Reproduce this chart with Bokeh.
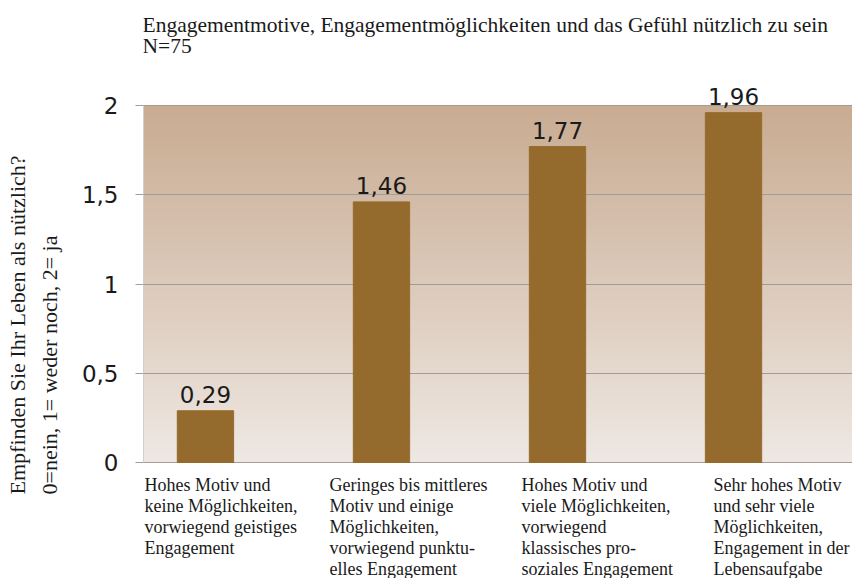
import numpy as np
from bokeh.plotting import figure
from bokeh.models import Range1d, ColumnDataSource, LabelSet, Label, FixedTicker, Title
from bokeh.core.properties import value
from bokeh.embed import file_html
from bokeh.resources import INLINE

# ---- data ----
categories = [
    "Hohes Motiv und\nkeine Möglichkeiten,\nvorwiegend geistiges\nEngagement",
    "Geringes bis mittleres\nMotiv und einige\nMöglichkeiten,\nvorwiegend punktu-\nelles Engagement",
    "Hohes Motiv und\nviele Möglichkeiten,\nvorwiegend\nklassisches pro-\nsoziales Engagement",
    "Sehr hohes Motiv\nund sehr viele\nMöglichkeiten,\nEngagement in der\nLebensaufgabe",
]
values = [0.29, 1.46, 1.77, 1.96]
y_ticks = [0, 0.5, 1, 1.5, 2]
y_tick_labels = ["0", "0,5", "1", "1,5", "2"]
title_lines = ["Engagementmotive, Engagementmöglichkeiten und das Gefühl nützlich zu sein", "N=75"]
y_label_lines = ["Empfinden Sie Ihr Leben als nützlich?", "0=nein,  1= weder noch,  2= ja"]

SERIF = "Liberation Serif"
SANS = "DejaVu Sans"
BAR = "#956b2d"
INK = "#1a1a1a"

# layout constants (pixels)
W, H = 852, 578
LEFT = 143            # frame left edge
Y_TOP_PX, Y_ZERO_PX = 105, 462   # pixel rows of value 2 and value 0
px_per_unit = (Y_ZERO_PX - Y_TOP_PX) / 2.0

xs = np.arange(len(values)) + 0.5
src = ColumnDataSource(dict(x=xs, top=values,
                            lab=[f"{v:.2f}".replace(".", ",") for v in values]))

x0, x1 = 0.148, 4.176
y0 = -(H - Y_ZERO_PX) / px_per_unit
y1 = 2 + Y_TOP_PX / px_per_unit
p = figure(width=W, height=H, output_backend="svg", toolbar_location=None,
           x_range=Range1d(x0, x1), y_range=Range1d(y0, y1), x_axis_location=None,
           min_border_left=LEFT, min_border_right=0, min_border_top=0, min_border_bottom=0)
p.outline_line_color = None
p.background_fill_color = "white"

# background gradient for the value area 0..2
n = 200
top_c = np.array([201, 172, 146]); bot_c = np.array([239, 232, 227])
t = np.linspace(0, 1, n)[:, None]
cols = (bot_c * (1 - t) + top_c * t).astype(np.uint32)
img = np.empty((n, 1), dtype=np.uint32)
view = img.view(dtype=np.uint8).reshape((n, 1, 4))
view[:, 0, 0] = cols[:, 0]; view[:, 0, 1] = cols[:, 1]; view[:, 0, 2] = cols[:, 2]; view[:, 0, 3] = 255
r_img = p.image_rgba(image=[img], x=x0, y=0, dw=x1 - x0, dh=2)
r_img.level = "image"

p.vbar(x="x", top="top", width=0.32, bottom=0, source=src, fill_color=BAR, line_color=BAR)

# axes / grid
p.xgrid.visible = False
p.ygrid.ticker = FixedTicker(ticks=y_ticks)
p.ygrid.grid_line_color = "#a29c96"
p.ygrid.grid_line_width = 1
ax = p.yaxis[0]
ax.ticker = FixedTicker(ticks=y_ticks)
ax.bounds = (0, 2)
ax.major_label_overrides = {t_: l for t_, l in zip(y_ticks, y_tick_labels)}
ax.major_label_text_font = SANS
ax.major_label_text_font_size = "23px"
ax.major_label_text_color = INK
ax.major_label_standoff = 17
ax.major_tick_out = 8
ax.major_tick_in = 0
ax.minor_tick_line_color = None
ax.major_tick_line_color = "#a29c96"
ax.axis_line_color = "#cfcfcf"

# value labels
p.add_layout(LabelSet(x="x", y="top", text="lab", source=src, y_offset=8,
                      text_align="center", text_baseline="alphabetic",
                      text_font=value(SANS), text_font_size="23px", text_color=INK))

# title (inside the frame, screen units relative to frame lower-left)
for i, line in enumerate(title_lines):
    p.add_layout(Label(x=-1, y=(H - 24) - 21 * i, x_units="screen", y_units="screen", text=line,
                       text_font=SERIF, text_font_size="21.5px", text_color=INK,
                       text_baseline="alphabetic", text_align="left"))

# y label: two vertical titles on the left (inner line first)
for line, so in [(y_label_lines[1], 34), (y_label_lines[0], -24)]:
    p.add_layout(Title(text=line, align="left", offset=84, standoff=so,
                       text_font=SERIF, text_font_size="22px", text_font_style="normal",
                       text_color=INK), "left")

# category labels
for i, cat in enumerate(categories):
    lx = max(1, -6 + 192 * i)
    p.add_layout(Label(x=lx, y=H - 474, x_units="screen", y_units="screen", text=cat,
                       text_font=SERIF, text_font_size="18px", text_color=INK,
                       text_baseline="top", text_align="left", text_line_height=1.06))

open("out.html", "w").write(file_html(p, INLINE))
